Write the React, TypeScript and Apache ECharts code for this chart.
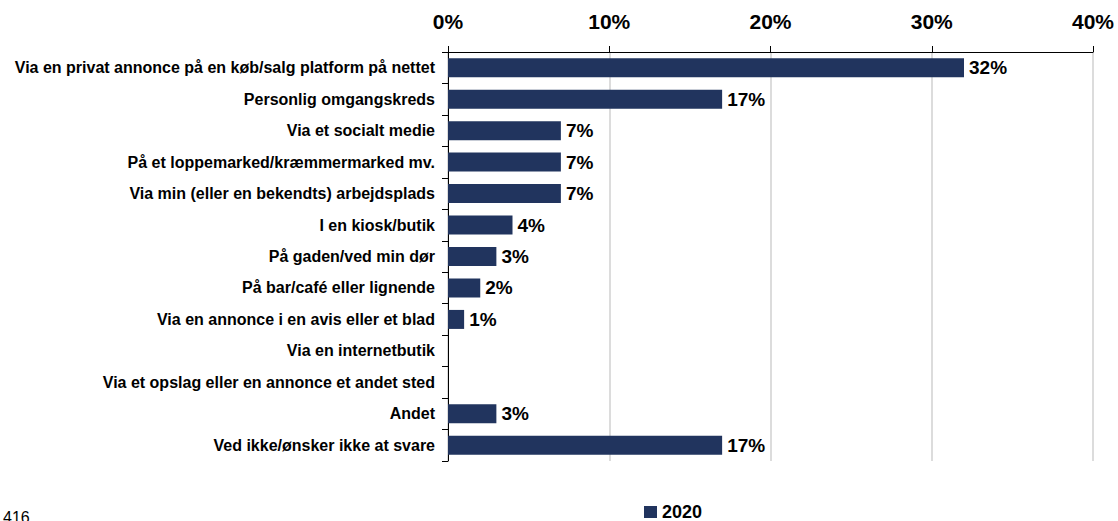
import React, { useEffect, useRef } from "react";
import * as echarts from "echarts";

const categories = [
  "Via en privat annonce på en køb/salg platform på nettet",
  "Personlig omgangskreds",
  "Via et socialt medie",
  "På et loppemarked/kræmmermarked mv.",
  "Via min (eller en bekendts) arbejdsplads",
  "I en kiosk/butik",
  "På gaden/ved min dør",
  "På bar/café eller lignende",
  "Via en annonce i en avis eller et blad",
  "Via en internetbutik",
  "Via et opslag eller en annonce et andet sted",
  "Andet",
  "Ved ikke/ønsker ikke at svare",
];

const values2020: (number | null)[] = [32, 17, 7, 7, 7, 4, 3, 2, 1, null, null, 3, 17];

const seriesName = "2020";
const footnote = "416";

const FONT = '"Liberation Sans", Arial, Helvetica, sans-serif';

export default function App() {
  const ref = useRef<HTMLDivElement>(null);

  useEffect(() => {
    document.body.style.margin = "0";
    if (!ref.current) return;
    const chart = echarts.init(ref.current, null, { renderer: "svg" });
    chart.setOption({
      animation: false,
      backgroundColor: "#ffffff",
      textStyle: { fontFamily: FONT },
      grid: { left: 448, right: 25, top: 52, bottom: 60, containLabel: false },
      legend: {
        data: [seriesName],
        left: 644,
        top: 503,
        padding: 0,
        icon: "rect",
        itemWidth: 13,
        itemHeight: 12,
        itemGap: 5,
        textStyle: { fontFamily: FONT, fontSize: 18, fontWeight: "bold", color: "#000", padding: [0, 0, 0, 0] },
      },
      xAxis: {
        type: "value",
        position: "top",
        min: 0,
        max: 40,
        interval: 10,
        axisLine: { show: true, lineStyle: { color: "#000", width: 1 } },
        axisTick: { show: true, length: 6, lineStyle: { color: "#000", width: 1 } },
        splitLine: { show: true, lineStyle: { color: "#d0d0d0", width: 1.5 } },
        axisLabel: {
          formatter: "{value}%",
          margin: 20,
          fontFamily: FONT,
          fontSize: 21,
          fontWeight: "bold",
          color: "#000",
        },
      },
      yAxis: {
        type: "category",
        inverse: true,
        data: categories,
        axisLine: { show: true, lineStyle: { color: "#000", width: 1 } },
        axisTick: { show: true, length: 6, alignWithLabel: false, interval: 0, lineStyle: { color: "#000" } },
        axisLabel: {
          interval: 0,
          margin: 13,
          fontFamily: FONT,
          fontSize: 16,
          fontWeight: "bold",
          color: "#000",
        },
      },
      series: [
        {
          name: seriesName,
          type: "bar",
          data: values2020,
          barWidth: 19,
          itemStyle: { color: "#21345E" },
          label: {
            show: true,
            position: "right",
            distance: 5,
            formatter: "{c}%",
            fontFamily: FONT,
            fontSize: 19,
            fontWeight: "bold",
            color: "#000",
          },
        },
      ],
      graphic: [
        {
          type: "text",
          left: 3,
          top: 509,
          style: { text: footnote, fontFamily: FONT, fontSize: 16, fill: "#000" },
        },
      ],
    });
    return () => chart.dispose();
  }, []);

  return <div ref={ref} style={{ width: 1118, height: 521 }} />;
}
